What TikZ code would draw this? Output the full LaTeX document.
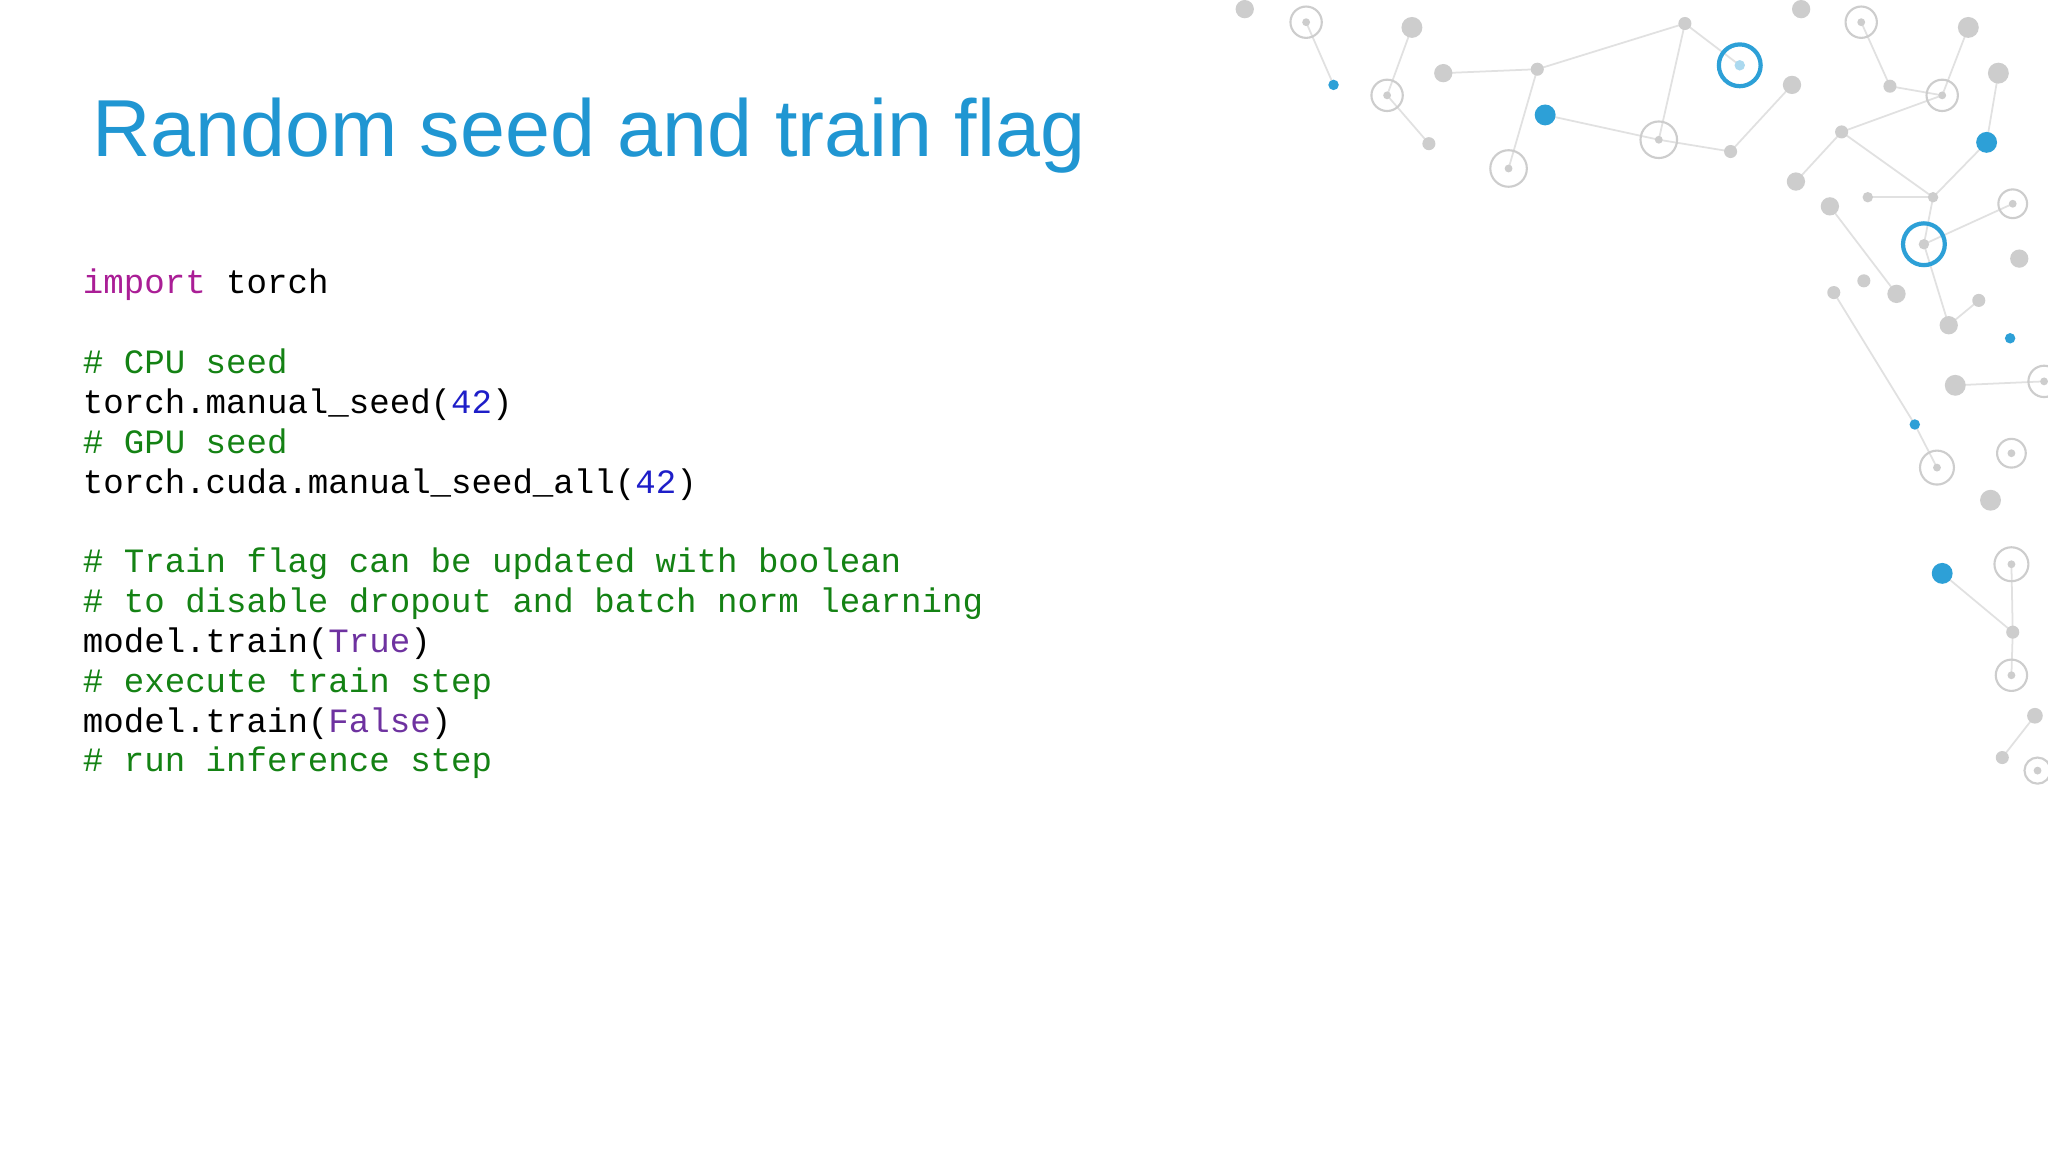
\documentclass[tikz,border=0pt]{standalone}
\usepackage{fontspec}
\setmainfont{Liberation Sans}
\newfontfamily\codefont{Liberation Mono}
\definecolor{titleblue}{RGB}{32,150,210}
\definecolor{kw}{RGB}{170,30,150}
\definecolor{cm}{RGB}{20,130,20}
\definecolor{nm}{RGB}{30,30,200}
\definecolor{bl}{RGB}{110,50,160}
\definecolor{dotgray}{RGB}{205,205,205}
\definecolor{linegray}{RGB}{225,225,225}
\definecolor{dotblue}{RGB}{45,160,215}
\tikzset{
  codeline/.style={anchor=base west,inner sep=0pt,font=\codefont\fontsize{9.7pt}{11pt}\selectfont},
  gdot/.style={fill=dotgray,draw=none},
  gring/.style={draw=dotgray,line width=0.6pt},
  bdot/.style={fill=dotblue,draw=none},
  bring/.style={draw=dotblue,line width=1.2pt},
  net/.style={draw=linegray,line width=0.5pt}
}
\begin{document}
\begin{tikzpicture}[x=0.013061cm,y=-0.013061cm]
\useasboundingbox (0,0) rectangle (1568,882);
\fill[white] (0,0) rectangle (1568,882);
% network decoration
\foreach \a/\b/\c/\d in {1000/17/1021/65,1062/73/1081/21,1062/73/1094/110,1105/56/1177/53,1177/53/1155/129,1177/53/1290/18,1270/107/1290/18,1270/107/1183/88,1325/116/1372/65,1290/18/1332/50,1425/17/1447/66,1447/66/1487/73,1487/73/1507/21,1487/73/1410/101,1410/101/1375/139,1410/101/1480/151,1521/109/1480/151,1480/151/1473/187,1430/151/1480/151,1473/187/1541/156,1473/187/1492/249,1401/158/1452/225,1492/249/1515/230,1483/358/1466/325,1497/295/1565/292,1487/439/1541/484,1541/484/1540/517,1558/548/1533/580,1325/116/1270/107,1540/432/1541/484,1404/224/1466/325,1530/56/1521/109}
  \draw[net] (\a,\b) -- (\c,\d);
\foreach \x/\y/\r in {953/7/7,1081/21/8,1105/56/7,1177/53/5,1372/65/7,1379/7/7,1507/21/8,1530/56/8,1375/139/7,1401/158/7,1452/225/7,1492/249/7,1497/295/8,1524/383/8,1546/198/7,1558/548/6,1533/580/5,1094/110/5,1325/116/5,1410/101/5,1430/151/4,1480/151/4,1404/224/5,1427/215/5,1515/230/5,1541/484/5,1447/66/5,1290/18/5}
  \fill[gdot] (\x,\y) circle (\r);
\foreach \x/\y/\r in {1000/17/12,1062/73/12,1155/129/14,1270/107/14,1487/73/12,1425/17/12,1541/156/11,1540/347/11,1483/358/13,1540/432/13,1540/517/12,1560/590/10,1565/292/12}
  {\draw[gring] (\x,\y) circle (\r); \fill[gdot] (\x,\y) circle (3);}
\foreach \x/\y/\r in {1021/65/4,1183/88/8,1521/109/8,1539/259/4,1466/325/4,1487/439/8}
  \fill[bdot] (\x,\y) circle (\r);
\draw[bring] (1332,50) circle (16);
\fill[dotblue!40] (1332,50) circle (4);
\draw[bring] (1473,187) circle (16);
\fill[dotgray] (1473,187) circle (4);
% title
\node[anchor=base west,inner sep=0pt,text=titleblue,font=\fontsize{23pt}{27pt}\selectfont] (title) at (70,120) {Random seed and train flag};
% code
\node[codeline] (l0) at (63,225) {\textcolor{kw}{import} torch};
\node[codeline] (l2) at (63,286) {\textcolor{cm}{\# CPU seed}};
\node[codeline] (l3) at (63,316.5) {torch.manual\_seed(\textcolor{nm}{42})};
\node[codeline] (l4) at (63,347) {\textcolor{cm}{\# GPU seed}};
\node[codeline] (l5) at (63,377.5) {torch.cuda.manual\_seed\_all(\textcolor{nm}{42})};
\node[codeline] (l7) at (63,438.5) {\textcolor{cm}{\# Train flag can be updated with boolean}};
\node[codeline] (l8) at (63,469) {\textcolor{cm}{\# to disable dropout and batch norm learning}};
\node[codeline] (l9) at (63,499.5) {model.train(\textcolor{bl}{True})};
\node[codeline] (l10) at (63,530) {\textcolor{cm}{\# execute train step}};
\node[codeline] (l11) at (63,560.5) {model.train(\textcolor{bl}{False})};
\node[codeline] (l12) at (63,591) {\textcolor{cm}{\# run inference step}};
\end{tikzpicture}
\end{document}
